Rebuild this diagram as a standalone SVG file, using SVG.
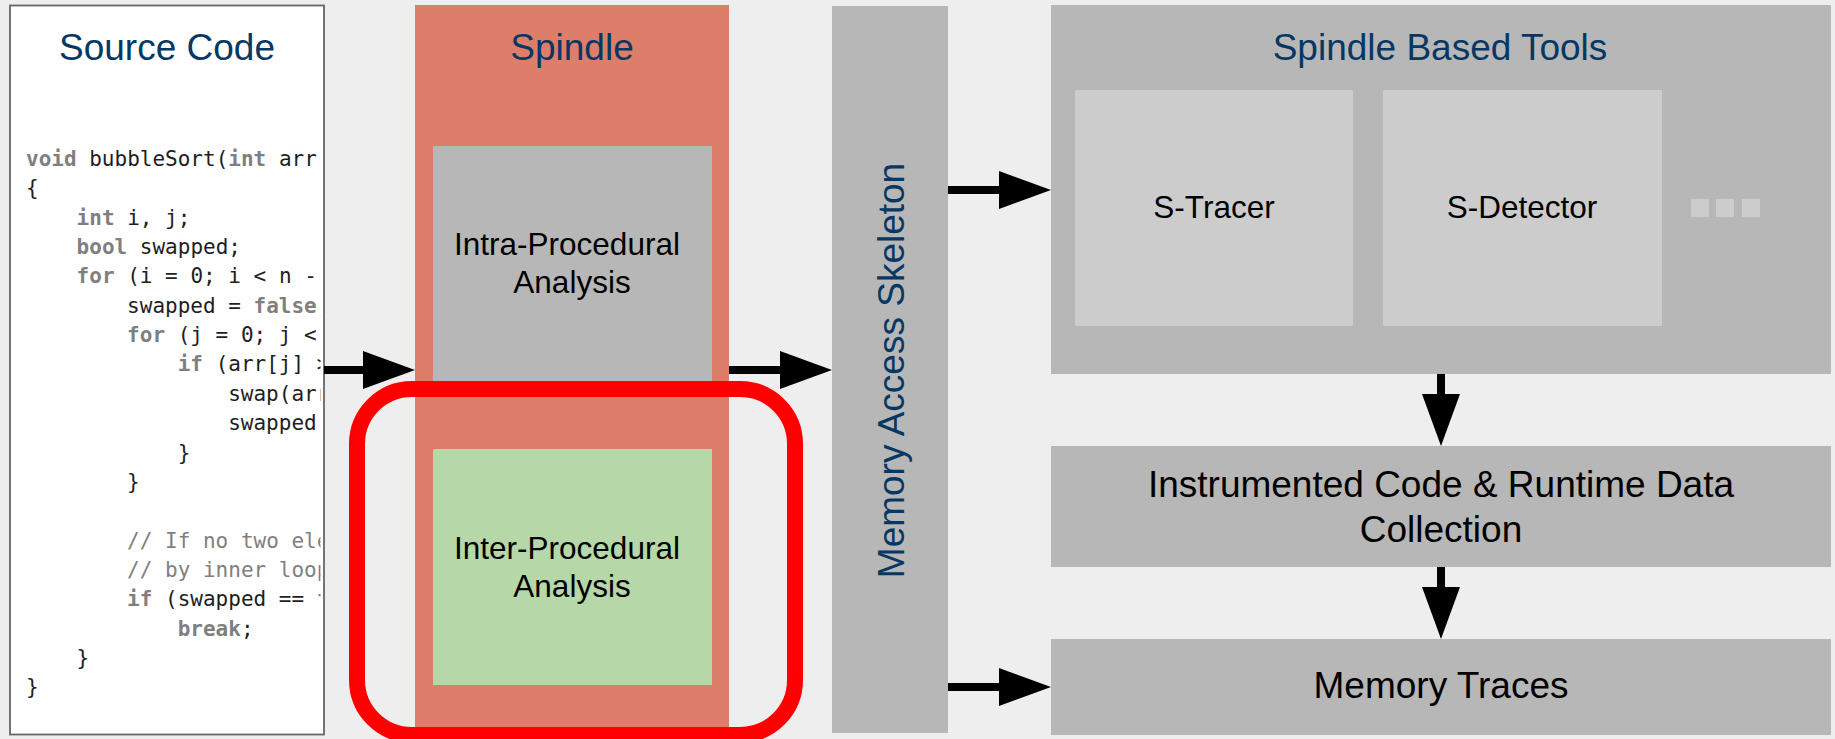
<svg xmlns="http://www.w3.org/2000/svg" width="1835" height="739" viewBox="0 0 1835 739">
  <style>
    .title { font-family: "Liberation Sans", Arial, sans-serif; font-size: 37px; fill: #073763; text-anchor: middle; }
    .label { font-family: "Liberation Sans", Arial, sans-serif; font-size: 31.5px; fill: #000000; text-anchor: middle; }
    .label-lg { font-family: "Liberation Sans", Arial, sans-serif; font-size: 37px; fill: #000000; text-anchor: middle; }
    .code { font-family: "DejaVu Sans Mono", "Liberation Mono", monospace; font-size: 21px; fill: #1e1e1e; }
    .kw { fill: #7f7f7f; font-weight: bold; }
    .cm { fill: #808080; }
    .gray { fill: #b7b7b7; }
    .light { fill: #cccccc; }
    .conn { stroke: #000000; stroke-width: 8; fill: none; marker-end: url(#head); }
  </style>
  <defs>
    <marker id="head" markerUnits="userSpaceOnUse" viewBox="0 0 52 38" markerWidth="52" markerHeight="38" refX="0" refY="19" orient="auto">
      <path d="M0,0 L52,19 L0,38 Z" fill="#000000"/>
    </marker>
    <clipPath id="codeClip">
      <rect x="11" y="100" width="309.5" height="625"/>
    </clipPath>
  </defs>

  <!-- canvas -->
  <rect x="0" y="0" width="1835" height="739" fill="#eeeeee"/>

  <!-- source listing -->
  <g id="source-code">
    <rect x="10" y="5.5" width="314" height="729" fill="#ffffff" stroke="#666666" stroke-width="1.8"/>
    <text class="title" x="167" y="60">Source Code</text>
    <g clip-path="url(#codeClip)" class="code">
      <text x="26" y="166"><tspan class="kw">void</tspan> bubbleSort(<tspan class="kw">int</tspan> arr[</text>
      <text x="26" y="195.3">{</text>
      <text x="76.6" y="224.7"><tspan class="kw">int</tspan> i, j;</text>
      <text x="76.6" y="254"><tspan class="kw">bool</tspan> swapped;</text>
      <text x="76.6" y="283.4"><tspan class="kw">for</tspan> (i = 0; i &lt; n -</text>
      <text x="127.1" y="312.7">swapped = <tspan class="kw">false</tspan>;</text>
      <text x="127.1" y="342.1"><tspan class="kw">for</tspan> (j = 0; j &lt;</text>
      <text x="177.7" y="371.4"><tspan class="kw">if</tspan> (arr[j] &gt;</text>
      <text x="228.2" y="400.8">swap(arr</text>
      <text x="228.2" y="430.1">swapped</text>
      <text x="177.7" y="459.5">}</text>
      <text x="127.1" y="488.8">}</text>
      <text x="127.1" y="547.5" class="cm">// If no two ele</text>
      <text x="127.1" y="576.9" class="cm">// by inner loop</text>
      <text x="127.1" y="606.2"><tspan class="kw">if</tspan> (swapped == <tspan class="kw">f</tspan></text>
      <text x="177.7" y="635.6"><tspan class="kw">break</tspan>;</text>
      <text x="76.6" y="664.9">}</text>
      <text x="26" y="694.3">}</text>
    </g>
  </g>

  <!-- Spindle analysis stage -->
  <g id="spindle">
    <rect x="415" y="5" width="314" height="725" fill="#dd7e6b"/>
    <text class="title" x="572" y="60">Spindle</text>
  </g>
  <g id="intra-procedural">
    <rect x="433" y="146" width="279" height="244" class="gray"/>
    <text class="label" x="567" y="255">Intra-Procedural</text>
    <text class="label" x="572" y="293">Analysis</text>
  </g>
  <g id="inter-procedural">
    <rect x="433" y="449" width="279" height="236" fill="#b6d7a8"/>
    <text class="label" x="567" y="559">Inter-Procedural</text>
    <text class="label" x="572" y="597">Analysis</text>
  </g>
  <g id="highlight">
    <rect x="357" y="389" width="438" height="346" rx="55" ry="55" fill="none" stroke="#ff0000" stroke-width="16"/>
  </g>

  <!-- skeleton -->
  <g id="memory-access-skeleton">
    <rect x="832" y="6" width="116" height="727" class="gray"/>
    <text class="title" transform="translate(904 370.5) rotate(-90)" x="0" y="0">Memory Access Skeleton</text>
  </g>

  <!-- tools -->
  <g id="spindle-based-tools">
    <rect x="1051" y="5" width="780" height="369" class="gray"/>
    <text class="title" x="1440" y="60">Spindle Based Tools</text>
  </g>
  <g id="s-tracer">
    <rect x="1075" y="90" width="278" height="236" class="light"/>
    <text class="label" x="1214" y="218">S-Tracer</text>
  </g>
  <g id="s-detector">
    <rect x="1383" y="90" width="279" height="236" class="light"/>
    <text class="label" x="1522" y="218">S-Detector</text>
  </g>
  <g id="more-tools">
    <rect x="1691" y="199" width="18" height="18" class="light"/>
    <rect x="1716" y="199" width="18" height="18" class="light"/>
    <rect x="1742" y="199" width="18" height="18" class="light"/>
  </g>
  <g id="instrumented-code">
    <rect x="1051" y="446" width="780" height="121" class="gray"/>
    <text class="label-lg" x="1441" y="497">Instrumented Code &amp; Runtime Data</text>
    <text class="label-lg" x="1441" y="542">Collection</text>
  </g>
  <g id="memory-traces">
    <rect x="1051" y="639" width="780" height="96" class="gray"/>
    <text class="label-lg" x="1441" y="698">Memory Traces</text>
  </g>

  <!-- connectors -->
  <g id="connectors">
    <path class="conn" d="M324,370 H363"/>
    <path class="conn" d="M729,370 H780"/>
    <path class="conn" d="M948,190 H999"/>
    <path class="conn" d="M948,687 H999"/>
    <path class="conn" d="M1441,374 V394"/>
    <path class="conn" d="M1441,567 V587"/>
  </g>
</svg>
